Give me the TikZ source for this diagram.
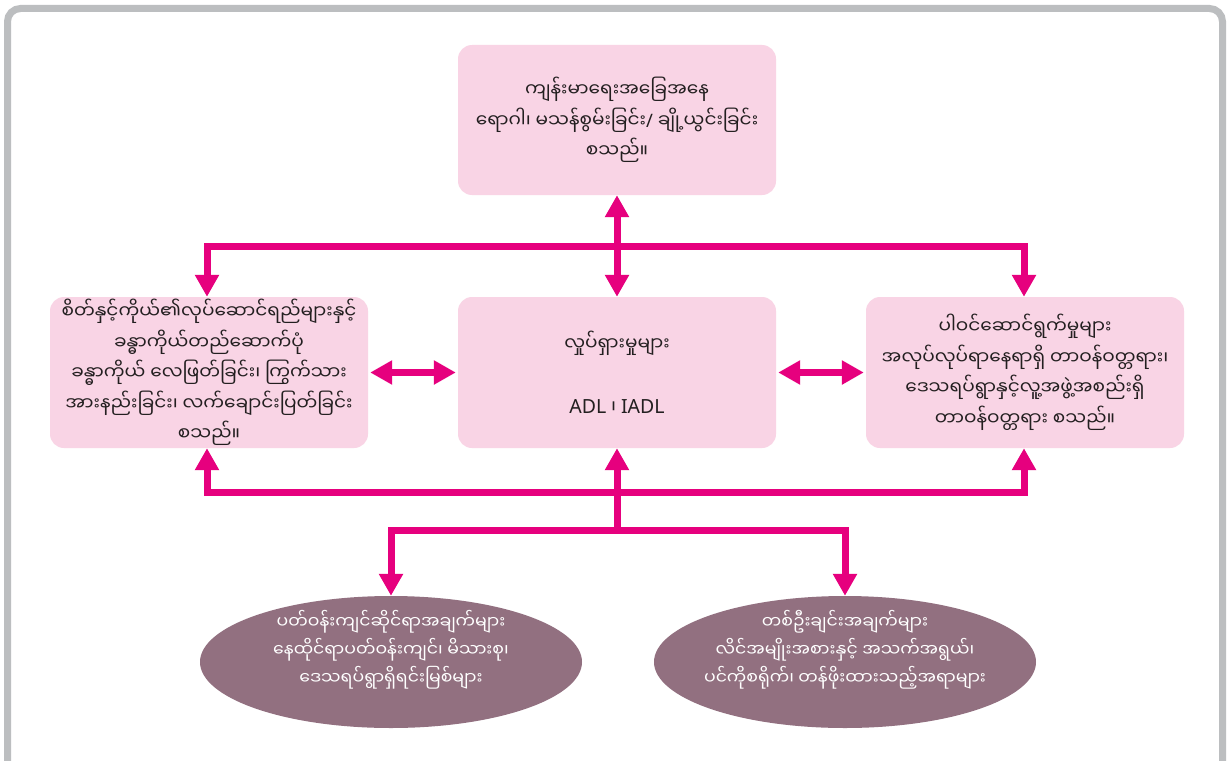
\documentclass[tikz,border=0pt]{standalone}
\usepackage{fontspec}
\usetikzlibrary{arrows.meta,shapes.geometric}
\newfontfamily\mm[Script=Myanmar]{Noto Sans Myanmar UI}
\newfontfamily\latn{Noto Sans}
\definecolor{boxpink}{HTML}{F9D4E5}
\definecolor{mag}{HTML}{E6007E}
\definecolor{mauve}{HTML}{927080}
\definecolor{framegrey}{HTML}{BCBEC0}
\definecolor{txt}{HTML}{231F20}
\tikzset{
  pbox/.style={draw=none, fill=boxpink, rounded corners=14pt, minimum width=318pt, minimum height=151pt,
    align=center, text=txt, font=\mm\fontsize{18.5}{30.5}\selectfont, inner sep=0pt},
  ebox/.style={ellipse, draw=none, fill=mauve, minimum width=382pt, minimum height=132pt, inner sep=0pt},
  etext/.style={align=center, text=white, inner sep=0pt, font=\mm\fontsize{17.3}{28}\selectfont},
  conn/.style={draw=mag, line width=7pt, line join=miter,
    arrows={Triangle[width=23pt,length=22pt]-Triangle[width=23pt,length=22pt]}},
  conn1/.style={draw=mag, line width=7pt, line join=miter, arrows={-Triangle[width=23pt,length=22pt]}},
}
\begin{document}
\begin{tikzpicture}[x=1pt,y=-1pt]
\useasboundingbox (0,0) rectangle (1228,760);
\fill[white] (0,0) rectangle (1228,760);
\draw[framegrey, line width=7pt, rounded corners=13pt] (7.5,8.5) rectangle (1222.5,800);

\node[pbox, minimum height=150pt] (top) at (617,120) {ကျန်းမာရေးအခြေအနေ\\ရောဂါ၊ မသန်စွမ်းခြင်း{\latn /} ချို့ယွင်းခြင်း\\စသည်။};
\node[pbox] (left) at (209,372.5) {စိတ်နှင့်ကိုယ်၏လုပ်ဆောင်ရည်များနှင့်\\ခန္ဓာကိုယ်တည်ဆောက်ပုံ\\ခန္ဓာကိုယ် လေဖြတ်ခြင်း၊ ကြွက်သား\\အားနည်းခြင်း၊ လက်ချောင်းပြတ်ခြင်း\\စသည်။};
\node[pbox, font=\mm\fontsize{18.5}{63}\selectfont] (center) at (617,372.5) {လှုပ်ရှားမှုများ\\{\latn\fontsize{19.5}{63}\selectfont ADL} ၊ {\latn\fontsize{19.5}{63}\selectfont IADL}};
\node[pbox] (right) at (1025,372.5) {ပါဝင်ဆောင်ရွက်မှုများ\\အလုပ်လုပ်ရာနေရာရှိ တာဝန်ဝတ္တရား၊\\ဒေသရပ်ရွာနှင့်လူ့အဖွဲ့အစည်းရှိ\\တာဝန်ဝတ္တရား စသည်။};
\node[ebox] (envf) at (391,662) {};
\node[etext] (envft) at (391,650) {ပတ်ဝန်းကျင်ဆိုင်ရာအချက်များ\\နေထိုင်ရာပတ်ဝန်းကျင်၊ မိသားစု၊\\ဒေသရပ်ရွာရှိရင်းမြစ်များ};
\node[ebox] (persf) at (845,662) {};
\node[etext] (persft) at (845,650) {တစ်ဦးချင်းအချက်များ\\လိင်အမျိုးအစားနှင့် အသက်အရွယ်၊\\ပင်ကိုစရိုက်၊ တန်ဖိုးထားသည့်အရာများ};

\coordinate (jtop) at (617,246);
\coordinate (jbot) at (617,492);
\coordinate (jlow) at (617,530);

\draw[conn] ([xshift=-2pt]left.north) |- (jtop) -| ([xshift=-1pt]right.north);
\draw[conn] (top.south) -- (center.north);
\draw[conn, shorten <=2pt, shorten >=2pt] (left.east) -- (center.west);
\draw[conn, shorten <=2pt, shorten >=2pt] (center.east) -- (right.west);
\draw[conn] ([xshift=-2pt]left.south) |- (jbot) -| ([xshift=-1pt]right.south);
\draw[conn1] (jlow) -- (center.south);
\draw[conn] (envf.north) |- (jlow) -| (persf.north);
\end{tikzpicture}
\end{document}
